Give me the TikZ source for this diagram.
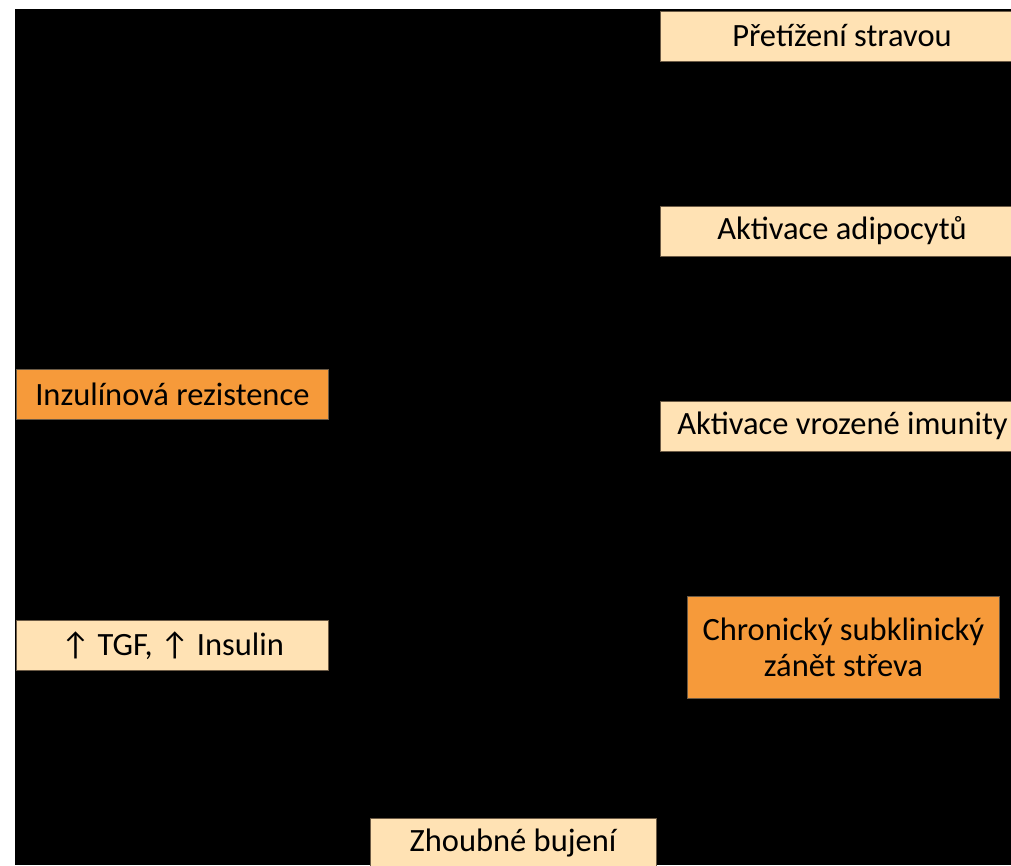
\documentclass[tikz,border=0pt]{standalone}
\usepackage{fontspec}
\setmainfont{Carlito}
\definecolor{peach}{HTML}{FFE2B4}
\definecolor{amber}{HTML}{F69A3A}
\definecolor{edge}{HTML}{6B5A45}
\begin{document}
\begin{tikzpicture}[x=1pt,y=-1pt,
  box/.style={draw=edge,line width=0.8pt,inner sep=0pt,align=center,
    font=\fontsize{32.5}{36}\selectfont,text=black},
  pale/.style={box,fill=peach},
  hot/.style={box,fill=amber}]
\useasboundingbox (0,0) rectangle (1011,865);
\fill[white] (0,0) rectangle (1011,865);
\fill[black] (15,9) rectangle (1011,865);
% right column
\node[pale,minimum width=380pt,minimum height=50pt,anchor=north west] (diet) at (660,11) {};
\node at (842,36) [box,draw=none] {Přetížení stravou};
\node[pale,minimum width=380pt,minimum height=50pt,anchor=north west] (adipo) at (660,206) {};
\node at (842,231) [box,draw=none] {Aktivace adipocytů};
\node[pale,minimum width=380pt,minimum height=50pt,anchor=north west] (immun) at (660,401) {};
\node at (842.5,426) [box,draw=none] {Aktivace vrozené imunity};
\node[hot,minimum width=312pt,minimum height=102pt,anchor=north west] (gut) at (687,596) {Chronický subklinický\\zánět střeva};
% left column
\node[hot,minimum width=312pt,minimum height=50pt,anchor=north west] (insres) at (16,369) {Inzulínová rezistence};
\node[pale,minimum width=312pt,minimum height=50pt,anchor=north west] (tgf) at (16,620) {↑ TGF, ↑ Insulin};
% bottom
\node[pale,minimum width=286pt,minimum height=60pt,anchor=north west] (cancer) at (370,818) {};
\node at (513,843) [box,draw=none] {Zhoubné bujení};
\end{tikzpicture}
\end{document}
